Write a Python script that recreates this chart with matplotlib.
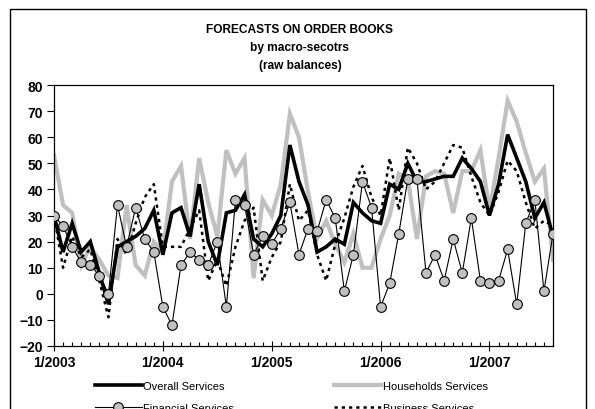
import matplotlib
matplotlib.use('Agg')
import matplotlib.pyplot as plt
from matplotlib.patches import Rectangle
from matplotlib.ticker import MultipleLocator, FixedLocator

plt.rcParams['font.family'] = ['Liberation Sans', 'DejaVu Sans']

months = list(range(56))
tick_pos = [0, 12, 24, 36, 48]
tick_labels = ['1/2003', '1/2004', '1/2005', '1/2006', '1/2007']

overall = [30, 16, 27, 16, 20, 8, -4, 18, 20, 22,
           25, 32, 15, 31, 33, 22, 42, 20, 11, 31,
           32, 38, 21, 18, 23, 30, 57, 43, 34, 16,
           18, 21, 19, 35, 31, 28, 27, 42, 40, 50,
           43, 43, 44, 45, 45, 52, 48, 43, 30, 42,
           61, 52, 43, 29, 35, 22]
households = [53, 34, 31, 11, 18, 13, 7, 6, 34, 11,
              7, 20, 16, 43, 49, 21, 52, 35, 22, 55,
              46, 52, 6, 36, 30, 42, 69, 60, 39, 21,
              28, 19, 12, 23, 10, 10, 21, 30, 46, 44,
              21, 45, 47, 46, 31, 47, 47, 55, 32, 52,
              74, 66, 54, 43, 48, 13]
financial = [30, 26, 18, 12, 11, 7, 0, 34, 18, 33,
             21, 16, -5, -12, 11, 16, 13, 11, 20, -5,
             36, 34, 15, 22, 19, 25, 35, 15, 25, 24,
             36, 29, 1, 15, 43, 33, -5, 4, 23, 44,
             44, 8, 15, 5, 21, 8, 29, 5, 4, 5,
             17, -4, 27, 36, 1, 23]
business = [30, 10, 22, 14, 17, 5, -9, 21, 15, 27,
            37, 42, 18, 18, 18, 25, 32, 5, 13, 3,
            18, 28, 33, 5, 14, 20, 42, 28, 32, 15,
            5, 19, 29, 41, 49, 37, 30, 52, 32, 56,
            50, 40, 43, 50, 57, 56, 45, 35, 30, 39,
            51, 47, 35, 25, 28, 26]

W, H = 595, 410
fig = plt.figure(figsize=(W / 100, H / 100), dpi=100)
fig.patch.set_facecolor('white')

# outer frame
fig.patches.append(Rectangle((10 / W, -0.05), 576 / W, 1 - 10 / H + 0.05,
                             transform=fig.transFigure, fill=False,
                             edgecolor='black', linewidth=1.0))

ax = fig.add_axes([54 / W, 1 - 347 / H, (553 - 54) / W, (347 - 86) / H])

l_house, = ax.plot(months, households, color='#C0C0C0', lw=3.0, zorder=2,
                   solid_joinstyle='miter')
l_over, = ax.plot(months, overall, color='black', lw=2.6, zorder=3,
                  solid_joinstyle='miter')
l_bus, = ax.plot(months, business, color='black', lw=1.8, zorder=4,
                 linestyle=(0, (1.3, 1.6)), dash_capstyle='butt')
l_fin, = ax.plot(months, financial, color='black', lw=0.8, zorder=5,
                 marker='o', markersize=7, markerfacecolor='#C0C0C0',
                 markeredgecolor='black', markeredgewidth=0.8)

ax.set_xlim(0, 55)
ax.set_ylim(-20, 80)
ax.yaxis.set_major_locator(MultipleLocator(10))
ax.xaxis.set_major_locator(FixedLocator(tick_pos))
ax.xaxis.set_minor_locator(MultipleLocator(1))
ax.set_xticklabels(tick_labels)

ax.tick_params(axis='y', direction='out', length=5, width=0.8, labelsize=10, pad=3)
ax.tick_params(axis='x', which='major', direction='inout', length=7, width=0.8,
               labelsize=10, pad=3)
ax.tick_params(axis='x', which='minor', direction='in', length=3, width=0.8)
for lbl in ax.get_xticklabels() + ax.get_yticklabels():
    lbl.set_fontweight('bold')
for sp in ax.spines.values():
    sp.set_linewidth(0.9)
    sp.set_color('black')

fig.text(300 / W, 1 - 30 / H, 'FORECASTS ON ORDER BOOKS', ha='center', va='center',
         fontsize=8.6, fontweight='bold')
fig.text(300 / W, 1 - 48 / H, 'by macro-secotrs', ha='center', va='center',
         fontsize=8.6, fontweight='bold')
fig.text(300 / W, 1 - 66 / H, '(raw balances)', ha='center', va='center',
         fontsize=8.6, fontweight='bold')

fig.legend(handles=[l_over, l_fin, l_house, l_bus],
           labels=['Overall Services', 'Financial Services',
                   'Households Services', 'Business Services'],
           ncol=2, loc='upper left', bbox_to_anchor=(95 / W, 1 - 382 / H),
           frameon=False, fontsize=8, handlelength=4.2, handletextpad=0.15,
           columnspacing=9.0, labelspacing=1.05, borderaxespad=0, borderpad=0)

fig.savefig('out.png', dpi=100)
